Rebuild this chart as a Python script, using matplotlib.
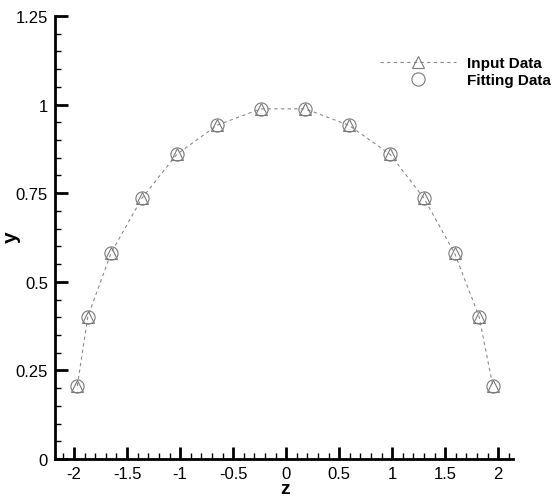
import matplotlib
matplotlib.use("Agg")
import matplotlib.pyplot as plt
from matplotlib.ticker import MultipleLocator

plt.rcParams['font.family'] = ['Liberation Sans', 'DejaVu Sans']

# sampled profile, z against y
z_input = [-1.97, -1.87, -1.65, -1.36, -1.03, -0.65, -0.24, 0.18, 0.59, 0.98, 1.30, 1.59, 1.82, 1.95]
y_input = [0.206, 0.402, 0.582, 0.736, 0.860, 0.942, 0.988, 0.988, 0.942, 0.860, 0.736, 0.580, 0.402, 0.206]
z_fit = z_input
y_fit = y_input

fig = plt.figure(figsize=(5.55, 5.02), dpi=100)
ax = fig.add_axes([55/555, 1 - 460/502, (513 - 55)/555, (460 - 17)/502])

ax.plot(z_input, y_input, color='#8a8a8a', lw=0.8, ls=(0, (3, 3)),
        marker='^', ms=8, mfc='none', mec='#7a7a7a', mew=0.8, label='Input Data')
ax.plot(z_fit, y_fit, ls='none', marker='o', ms=9.5, mfc='none',
        mec='#7a7a7a', mew=0.8, label='Fitting Data')

ax.set_xlim(-2.18, 2.14)
ax.set_ylim(0, 1.25)

for s in ['top', 'right']:
    ax.spines[s].set_visible(False)
for s in ['left', 'bottom']:
    ax.spines[s].set_linewidth(2.0)

ax.xaxis.set_major_locator(MultipleLocator(0.5))
ax.xaxis.set_minor_locator(MultipleLocator(0.1))
ax.yaxis.set_major_locator(MultipleLocator(0.25))
ax.yaxis.set_minor_locator(MultipleLocator(0.05))
ax.tick_params(which='major', direction='in', length=9, width=2, labelsize=12, pad=5)
ax.tick_params(which='minor', direction='in', length=4, width=1)
ax.set_xticks([-2, -1.5, -1, -0.5, 0, 0.5, 1, 1.5, 2])
ax.set_xticklabels(['-2', '-1.5', '-1', '-0.5', '0', '0.5', '1', '1.5', '2'])
ax.set_yticks([0, 0.25, 0.5, 0.75, 1, 1.25])
ax.set_yticklabels(['0', '0.25', '0.5', '0.75', '1', '1.25'])

ax.set_xlabel('z', fontsize=14, fontweight='bold', va='center')
ax.xaxis.set_label_coords((285 - 55) / 458, -(490 - 460) / 443)
ax.set_ylabel('y', fontsize=15, fontweight='bold', va='center')
ax.yaxis.set_label_coords(-(55 - 11) / 458, (460 - 237) / 443)

leg = ax.legend(loc='upper left', bbox_to_anchor=((380 - 55) / 458, (460 - 57) / 443),
                borderaxespad=0, borderpad=0, frameon=False,
                handlelength=5.0, labelspacing=0.2, handletextpad=0.7,
                prop={'weight': 'bold', 'size': 11})

fig.savefig('out.png', dpi=100)
